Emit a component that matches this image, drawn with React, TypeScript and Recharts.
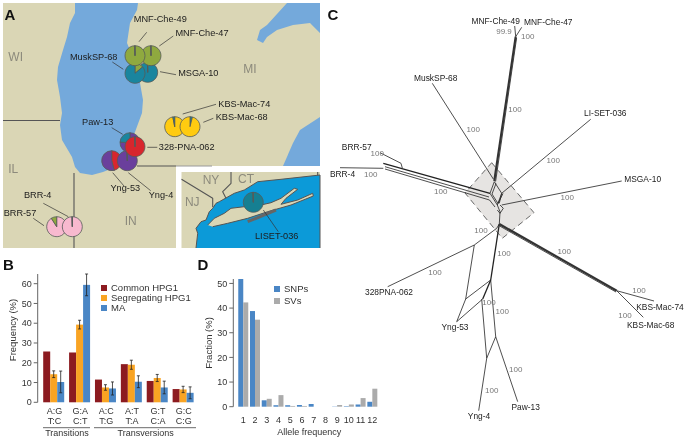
import React from "react";
import { BarChart, Bar, XAxis, YAxis, ErrorBar, Legend, ScatterChart, Scatter, PieChart, Pie } from "recharts";

const FONT = "'Liberation Sans', Arial, sans-serif";
type P = [number, number];

// ---------- panel B ----------
const subTop = ["A:G", "G:A", "A:C", "A:T", "G:T", "G:C"];
const subBottom = ["T:C", "C:T", "T:G", "T:A", "C:A", "C:G"];
const commonHPG1 = [25.7, 25.2, 11.5, 19.3, 10.8, 6.7];
const segregatingHPG1 = [14.2, 39.3, 7.5, 19.0, 12.3, 6.5];
const maLines = [10.3, 59.4, 7.0, 10.4, 7.5, 4.8];
const segErr = [1.7, 2.2, 1.4, 2.3, 1.8, 1.6];
const maErr = [5.5, 5.5, 3.3, 3.0, 3.2, 3.0];
const freqTicks = [0, 10, 20, 30, 40, 50, 60];
const tableB = subTop.map((top, i) => ({
  top, bottom: subBottom[i], common: commonHPG1[i], seg: segregatingHPG1[i], ma: maLines[i], segE: segErr[i], maE: maErr[i],
}));

// ---------- panel D ----------
const alleleFreq = ["1", "2", "3", "4", "5", "6", "7", "8", "9", "10", "11", "12"];
const snps = [51.8, 38.8, 2.6, 0.6, 0.6, 0.7, 1.1, 0, 0.1, 0.2, 0.9, 2.0];
const svs = [42.3, 35.3, 3.2, 4.7, 0.3, 0.3, 0, 0, 0.7, 0.9, 3.5, 7.3];
const fracTicks = [0, 10, 20, 30, 40, 50];
const tableD = alleleFreq.map((f, i) => ({ f, snp: snps[i], sv: svs[i] }));

// ---------- panel A: map geography ----------
const lakeMichigan: P[] = [[75,3],[75,13],[70,23],[67,37],[63,50],[58,67],[57,80],[60,97],[62,113],[60,125],[62,140],[72,157],[75,167],[80,173],[92,175],[103,172],[113,168],[122,160],[135,132],[142,113],[143,100],[140,83],[137,67],[127,43],[130,23],[137,10],[138,3]];
const lakeHuron: P[] = [[257,40],[260,30],[267,25],[287,3],[320,3],[320,33],[310,23],[293,25],[277,30],[267,37],[263,43]];
const lakeErie: P[] = [[283,166],[293,143],[300,130],[320,117],[320,166]];
const landUpper: P[] = [[3,3],[320,3],[320,166],[176,166],[176,248],[3,248]];
const landInset: P[] = [[181.5,172],[320,172],[320,248],[181.5,248]];
const sound: P[] = [[196,248],[197.7,233.3],[196,228.3],[201,221.7],[206,220],[209.3,211.7],[212.7,208.3],[216,203.3],[219.3,201.7],[234.3,193.3],[244.3,190],[257.7,181.7],[281,179.3],[320,175],[320,248]];
const longIsland: P[] = [[207.7,225],[214.3,218.3],[224.3,213.3],[231,208.3],[244.3,206.7],[261,205],[271,202.7],[281,198.3],[294.3,188.3],[297.7,189.3],[286,198.3],[281,204.3],[297.7,200],[312.7,193.3],[313.3,196],[291,205],[267.7,211.7],[247.7,218.3],[227.7,223.3],[212.7,226.7]];
const borders: P[][] = [
  [[3,120.5],[60,120.5]],
  [[74,173],[74,248]],
  [[137,166],[176,166]],
  [[181.5,179.3],[212.7,198.3],[212.7,207]],
  [[231,172],[231,183.3],[222.7,191.7],[226,198.3]],
  [[317.7,172],[317.7,175.5]],
];
const fadedBorder: P[] = [[176,166],[212,166]];
const barrierBeach: P[] = [[247.7,221.7],[276,210]];
const leaders: P[][] = [
  [[146.7,32.3],[139,41.7]], [[173.3,36],[159.3,46]], [[112.3,62],[123.3,69.3]], [[160,71.7],[176,74.7]],
  [[216,104.3],[182.7,114]], [[213.3,118.3],[203.3,122.3]], [[111.7,127.7],[122.7,134.3]], [[157.3,147.3],[147.3,147.3]],
  [[112.7,172.7],[124,186]], [[128.3,172.7],[150.7,190.7]], [[43.3,203.3],[68.3,216.7]], [[33.3,218.3],[44,225.7]],
  [[263.3,210],[278.3,231.7]],
];

const siteNames = ["MSGA-10","MuskSP-68","MNF-Che-47","MNF-Che-49","KBS-Mac-74","KBS-Mac-68","Yng-53","Yng-4","Paw-13","328-PNA-062","BRR-57","BRR-4","LISET-036"];
const GREEN = "#8FA93F", TEAL = "#1A859E", YEL = "#FFCB10", PUR = "#6A3F9C", RED = "#D8262D", PINK = "#F8B9CF";
const siteSlices: [number, string][][] = [
  [[99.5, TEAL],[0.5, GREEN]],
  [[14, GREEN],[86, TEAL]],
  [[99.5, GREEN],[0.5, "#777"]],
  [[99.5, GREEN],[0.5, "#777"]],
  [[97, YEL],[3, TEAL]],
  [[4, TEAL],[96, YEL]],
  [[46, RED],[54, PUR]],
  [[99.5, PUR],[0.5, TEAL]],
  [[76, PUR],[24, TEAL]],
  [[99.5, RED],[0.5, PUR]],
  [[91, PINK],[9, GREEN]],
  [[99.5, PINK],[0.5, "#777"]],
  [[99.5, "#167F92"],[0.5, "#777"]],
];
const siteCenters: P[] = [[147.7,72.3],[135,73.3],[151,55.7],[135,55.7],[174.7,126.7],[190,126.7],[111.7,160.7],[127.3,160.7],[130,142.7],[135,146.7],[56.7,226.7],[72.3,226.7],[253.3,202.3]];

const mapLabels: [string, number, number][] = [
  ["MNF-Che-49",160.3,19.3],["MNF-Che-47",202,33.3],["MuskSP-68",93.7,56.7],["MSGA-10",198.3,73.3],
  ["KBS-Mac-74",244.3,103.7],["KBS-Mac-68",241.7,117.3],["Paw-13",97.7,122],["328-PNA-062",186.7,147.3],
  ["Yng-53",125.3,188.3],["Yng-4",161,195],["BRR-4",37.7,195],["BRR-57",20,212.7],["LISET-036",276.7,235.7],
];
const stateLabels: [string, number, number][] = [
  ["WI",15.7,56.7],["MI",250,69],["IL",13.3,169],["IN",130.7,221],["NY",211,180],["CT",246,179.3],["NJ",192.3,202.3],
];
const panelLetters: [string, number, number][] = [["A",10,14],["B",8.5,264],["C",333,14],["D",203,264]];

// ---------- panel C: network ----------
const diamond: P[] = [[491.7,162.7],[534,212.7],[502.3,238.3],[465,193],[491.7,162.7]];
const thickEdges: P[][] = [
  [[494.3,181],[515.7,36.7]],
  [[499.3,224],[616.7,290.7]],
];
const mediumEdges: P[][] = [
  [[490,193.3],[383.3,163.3]],
  [[499.3,224],[490.7,280]],
  [[490.7,280],[482.7,299]],
];
const thinEdges: P[][] = [
  [[515.7,36.7],[514.7,26]], [[515.7,36.7],[521.7,27.3]],
  [[495.6,181.5],[516.6,38]],
  [[432.3,83.3],[493.3,179]],
  [[590.7,119.3],[501.7,193.3]],
  [[621.7,181],[501.7,205]],
  [[489,197],[385,166.7]], [[489.5,200],[385,169]],
  [[380,152.7],[401,163.3],[402.3,168]],
  [[340,167.7],[383.3,168.3]],
  [[494.3,181.7],[490,193.3],[497.3,205],[501.7,193.3],[494.3,181.7]],
  [[496,183.5],[492,194],[498,203.5],[503,193.5]],
  [[489.5,200],[495,207]],
  [[497.3,205],[500,211.7],[499.3,224]],
  [[500,205],[503.3,208.3],[500,213.3],[497.3,210]],
  [[501.7,193.3],[499.3,203.3]],
  [[498.6,225.4],[616,292]],
  [[616.7,290.7],[654,301]], [[616.7,290.7],[643.3,317.3]],
  [[387.7,286.7],[474.3,245],[496.7,228.3],[499.3,224]],
  [[474.3,245],[465.7,299],[456.7,321.7]],
  [[465.7,299],[490.7,280]],
  [[456.7,321.7],[482.7,299]],
  [[490.7,280],[495.7,336.7]],
  [[481.7,299],[486.7,358.3]],
  [[486.7,358.3],[495.7,336.7]],
  [[486.7,358.3],[478.7,410.7]],
  [[495.7,336.7],[517.7,401.7]],
];
const networkLabels: [string, number, number][] = [
  ["MNF-Che-49",495.7,21],["MNF-Che-47",548.3,22.3],["MuskSP-68",435.7,78.3],["LI-SET-036",605.3,113],
  ["MSGA-10",642.7,179],["BRR-57",356.7,147.3],["BRR-4",342.5,173.7],["328PNA-062",389,292],
  ["KBS-Mac-74",660,306.7],["KBS-Mac-68",650.7,325],["Yng-53",455,326.7],["Paw-13",525.7,406.7],["Yng-4",479,416],
];
const bootstrapLabels: [string, number, number][] = [
  ["99.9",504,31.7],["100",527.7,36.7],["100",473.3,129],["100",515,109],["100",553.3,160.7],["100",567.3,197.7],
  ["100",377.3,153.3],["100",370.7,174.7],["100",440.7,191.7],["100",481,230],["100",504,253.3],["100",564.3,251],
  ["100",435,272.3],["100",639,290],["100",625,315],["100",489,302],["100",502.3,311.3],["100",515.7,369.3],["100",491.7,390],
];
// shared text under the bar panels
const panelBText: [string, number, number][] = [["Transitions",67,432.7],["Transversions",145.7,432.7],["Allele frequency",309.3,431.7]];
const rotatedTitles: [string, number, number][] = [["Frequency (%)",12.3,330],["Fraction (%)",208.7,343]];
const brackets: P[][] = [[[43,427.7],[90,427.7]],[[94,427.7],[196,427.7]]];

const Nothing = () => null;
const toPts = (pts: P[]) => pts.map(([x, y]) => ({ x, y }));
const path = (key: string, pts: P[], stroke: string, width: number, fill = "none", dash?: string) => (
  <Scatter key={key} data={toPts(pts)} shape={Nothing as any} isAnimationActive={false} fill={stroke}
    line={{ stroke, strokeWidth: width, fill, strokeDasharray: dash, strokeLinejoin: "round" } as any} />
);
const texts = (key: string, items: [string, number, number][], size: number, color: string, weight = "normal", rotate = 0) => (
  <Scatter key={key} data={items.map(([text, x, y]) => ({ text, x, y }))} isAnimationActive={false} fill={color}
    shape={((p: any) => (
      <text x={p.cx} y={p.cy} textAnchor="middle" dominantBaseline="central" fontSize={size} fontWeight={weight} fill={color}
        fontFamily={FONT} transform={rotate ? `rotate(${rotate} ${p.cx} ${p.cy})` : undefined}>{p.payload.text}</text>
    )) as any} />
);

const LAND = "#DAD6B5", LAKE = "#74A9DB", SOUND = "#0C9AD8", BORDER = "#555", INK = "#222", GREY = "#777";
const legendText = (v: string) => <span style={{ color: "#333" }}>{v}</span>;

export default function App() {
  return (
    <div style={{ position: "absolute", left: 0, top: 0, width: 686, height: 439, background: "#fff", overflow: "hidden", fontFamily: FONT, filter: "blur(0.3px)" }}>
      <div style={{ position: "absolute", left: 0, top: 0 }}>
        <ScatterChart width={686} height={439} margin={{ top: 0, right: 0, bottom: 0, left: 0 }}>
          <XAxis type="number" dataKey="x" domain={[0, 686]} hide />
          <YAxis type="number" dataKey="y" domain={[0, 439]} reversed hide />
          {path("land", landUpper, LAND, 0, LAND)}
          {path("inset", landInset, LAND, 0, LAND)}
          {path("mich", lakeMichigan, LAKE, 0, LAKE)}
          {path("huron", lakeHuron, LAKE, 0, LAKE)}
          {path("erie", lakeErie, LAKE, 0, LAKE)}
          {path("sound", sound, BORDER, 1, SOUND)}
          {path("li", longIsland, BORDER, 1, LAND)}
          {path("beach", barrierBeach, "#666", 3)}
          {borders.map((b, i) => path(`b${i}`, b, BORDER, 1.1))}
          {path("fade", fadedBorder, "#999", 1.1)}
          {leaders.map((b, i) => path(`l${i}`, b, "#333", 0.7))}
          {texts("state", stateLabels, 12, "#8C8A7C")}
          {texts("map", mapLabels, 9.2, "#1c1c1c")}
          {texts("letters", panelLetters, 15, "#111", "bold")}

          {path("diamond", diamond, "#444", 0.8, "#E6E4E2", "6 4")}
          {thinEdges.map((b, i) => path(`t${i}`, b, "#222", 0.8))}
          {mediumEdges.map((b, i) => path(`m${i}`, b, "#222", 1.3))}
          {thickEdges.map((b, i) => path(`k${i}`, b, "#333", 2.2))}
          {texts("net", networkLabels, 8.4, INK)}
          {texts("boot", bootstrapLabels, 8, GREY)}

          {brackets.map((b, i) => path(`br${i}`, b, "#444", 0.8))}
          {texts("under", panelBText, 9, "#333")}
          {texts("rot", rotatedTitles, 9.5, "#333", "normal", -90)}
        </ScatterChart>
      </div>

      <div style={{ position: "absolute", left: 0, top: 0 }}>
        <PieChart width={686} height={439} margin={{ top: 0, right: 0, bottom: 0, left: 0 }}>
          {siteNames.map((name, i) => (
            <Pie key={name} dataKey="value" nameKey="label" cx={siteCenters[i][0]} cy={siteCenters[i][1]} outerRadius={10} innerRadius={0}
              startAngle={90} endAngle={-270} stroke="#565a58" strokeWidth={0.8} isAnimationActive={false}
              data={siteSlices[i].map(([value, fill], j) => ({ label: `${name}-${j}`, value, fill }))} />
          ))}
        </PieChart>
      </div>

      <div style={{ position: "absolute", left: 0, top: 250 }}>
        <BarChart width={200} height={189} data={tableB} barGap={0} barCategoryGap={1.7} margin={{ top: 24, right: 3.2, bottom: 0, left: 0 }}>
          <XAxis dataKey="top" height={36.7} axisLine={false} tickLine={false} interval={0} padding={{ left: 3.8, right: 0 }}
            tick={((p: any) => (
              <g fontSize={9} fill="#333" fontFamily={FONT} textAnchor="middle">
                <text x={p.x} y={410.7 - 250} dominantBaseline="central">{p.payload.value}</text>
                <text x={p.x} y={420.7 - 250} dominantBaseline="central">{subBottom[subTop.indexOf(p.payload.value)]}</text>
              </g>
            )) as any} />
          <YAxis width={37.7} domain={[0, 60]} ticks={freqTicks} tickSize={4} tick={{ fontSize: 9, fill: "#333" }} stroke="#666" tickMargin={2} interval={0} />
          <Legend layout="vertical" align="center" verticalAlign="middle" iconType="square" iconSize={6} formatter={legendText as any} itemSorter={null as any}
            wrapperStyle={{ left: 101, top: 33, width: 100, fontSize: 9.5, lineHeight: "10px", textAlign: "left", whiteSpace: "nowrap" }} />
          <Bar dataKey="common" name="Common HPG1" fill="#8C1B20" isAnimationActive={false} />
          <Bar dataKey="seg" name="Segregating HPG1" fill="#F9A423" isAnimationActive={false}>
            <ErrorBar dataKey="segE" width={1.5} strokeWidth={0.8} stroke="#222" />
          </Bar>
          <Bar dataKey="ma" name="MA" fill="#4A86C5" isAnimationActive={false}>
            <ErrorBar dataKey="maE" width={1.5} strokeWidth={0.8} stroke="#222" />
          </Bar>
        </BarChart>
      </div>

      <div style={{ position: "absolute", left: 196, top: 250 }}>
        <BarChart width={190} height={189} data={tableD} barGap={0} barCategoryGap={0.86} margin={{ top: 29, right: 7.8, bottom: 0, left: 0 }}>
          <XAxis dataKey="f" height={32.3} axisLine={false} tickLine={false} interval={0} padding={{ left: 4.1, right: 0 }} tick={{ fontSize: 9, fill: "#333" }} tickMargin={4} />
          <YAxis width={37.3} domain={[0, 50]} ticks={fracTicks} tickSize={4} tick={{ fontSize: 9, fill: "#333" }} stroke="#666" tickMargin={2} interval={0} />
          <Legend layout="vertical" align="center" verticalAlign="middle" iconType="square" iconSize={6} formatter={legendText as any} itemSorter={null as any}
            wrapperStyle={{ left: 78, top: 33, width: 60, fontSize: 9.5, lineHeight: "11.5px", textAlign: "left", whiteSpace: "nowrap" }} />
          <Bar dataKey="snp" name="SNPs" fill="#4A86C5" isAnimationActive={false} />
          <Bar dataKey="sv" name="SVs" fill="#ABABAB" isAnimationActive={false} />
        </BarChart>
      </div>
    </div>
  );
}
